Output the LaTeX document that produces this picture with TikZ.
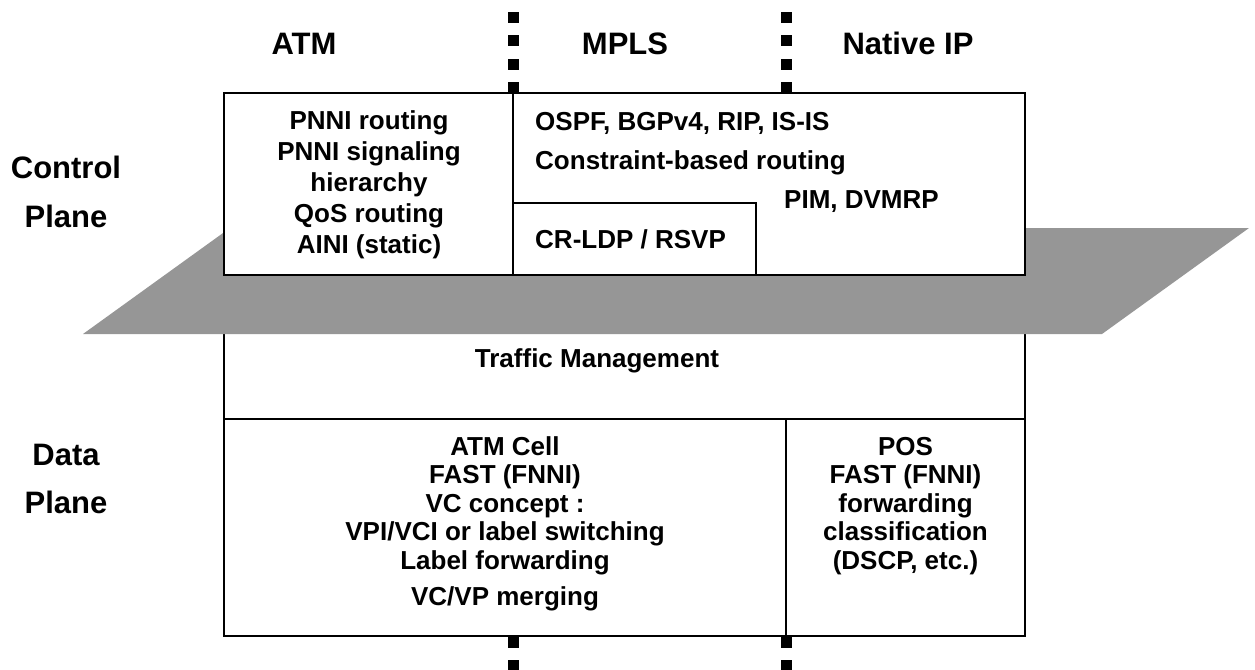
\documentclass[tikz,border=0pt]{standalone}
\usepackage{fontspec}
\setmainfont{Liberation Sans}
\definecolor{planegray}{RGB}{150,150,150}
\begin{document}
\begin{tikzpicture}[x=1pt,y=-1pt,
  box/.style={draw, line width=2.2pt, fill=white, inner sep=0pt, outer sep=0pt, anchor=north west},
  txt/.style={font=\fontsize{26}{31}\selectfont\bfseries, inner sep=0pt, anchor=base},
  txtw/.style={txt, anchor=base west},
  head/.style={font=\fontsize{31}{36}\selectfont\bfseries, inner sep=0pt, anchor=base},
  sq/.style={fill=black}]
\useasboundingbox (0,0) rectangle (1255,669);

% traffic management box (partly hidden by the plane)
\node[box, minimum width=801pt, minimum height=144pt] (tm) at (224,275) {};
% the grey plane
\fill[planegray] (83,334) -- (1102,334) -- (1249,228) -- (230,228) -- cycle;

% control plane boxes
\node[box, minimum width=289pt, minimum height=182pt] (atmc) at (224,93) {};
\node[box, minimum width=512pt, minimum height=182pt] (mplsc) at (513,93) {};
\node[box, minimum width=243pt, minimum height=72pt] (crldp) at (513,203) {};

% data plane boxes
\node[box, minimum width=562pt, minimum height=217pt] (dl) at (224,419) {};
\node[box, minimum width=239pt, minimum height=217pt] (dr) at (786,419) {};

% dotted separators
\foreach \x in {513,786}{
  \foreach \y in {12,35,59,82,637,660}{
    \fill[sq] (\x-5.5,\y) rectangle (\x+5.5,\y+11);
  }
}

% headers
\node[head] (hatm) at (304,55) {ATM};
\node[head] (hmpls) at (625,55) {MPLS};
\node[head] (hip) at (908,55) {Native IP};
\node[head] (cp1) at (66,178) {Control};
\node[head] (cp2) at (66,227) {Plane};
\node[head] (dp1) at (66,465) {Data};
\node[head] (dp2) at (66,513) {Plane};

% ATM control text
\node[txt] (a1) at (369,129) {PNNI routing};
\node[txt] (a2) at (369,160) {PNNI signaling};
\node[txt] (a3) at (369,191) {hierarchy};
\node[txt] (a4) at (369,222) {QoS routing};
\node[txt] (a5) at (369,253) {AINI (static)};

% MPLS / IP control text
\node[txtw] (m1) at (535,130) {OSPF, BGPv4, RIP, IS-IS};
\node[txtw] (m2) at (535,169) {Constraint-based routing};
\node[txtw] (m3) at (784,208) {PIM, DVMRP};
\node[txtw] (m4) at (535,248) {CR-LDP / RSVP};

% traffic management
\node[txt] (t1) at (597,367) {Traffic Management};

% data plane left
\node[txt] (d1) at (505,455) {ATM Cell};
\node[txt] (d2) at (505,483.5) {FAST (FNNI)};
\node[txt] (d3) at (505,512) {VC concept :};
\node[txt] (d4) at (505,540.5) {VPI/VCI or label switching};
\node[txt] (d5) at (505,569) {Label forwarding};
\node[txt] (d6) at (505,605) {VC/VP merging};

% data plane right
\node[txt] (r1) at (905.5,455) {POS};
\node[txt] (r2) at (905.5,483.5) {FAST (FNNI)};
\node[txt] (r3) at (905.5,512) {forwarding};
\node[txt] (r4) at (905.5,540.5) {classification};
\node[txt] (r5) at (905.5,569) {(DSCP, etc.)};
\end{tikzpicture}
\end{document}
